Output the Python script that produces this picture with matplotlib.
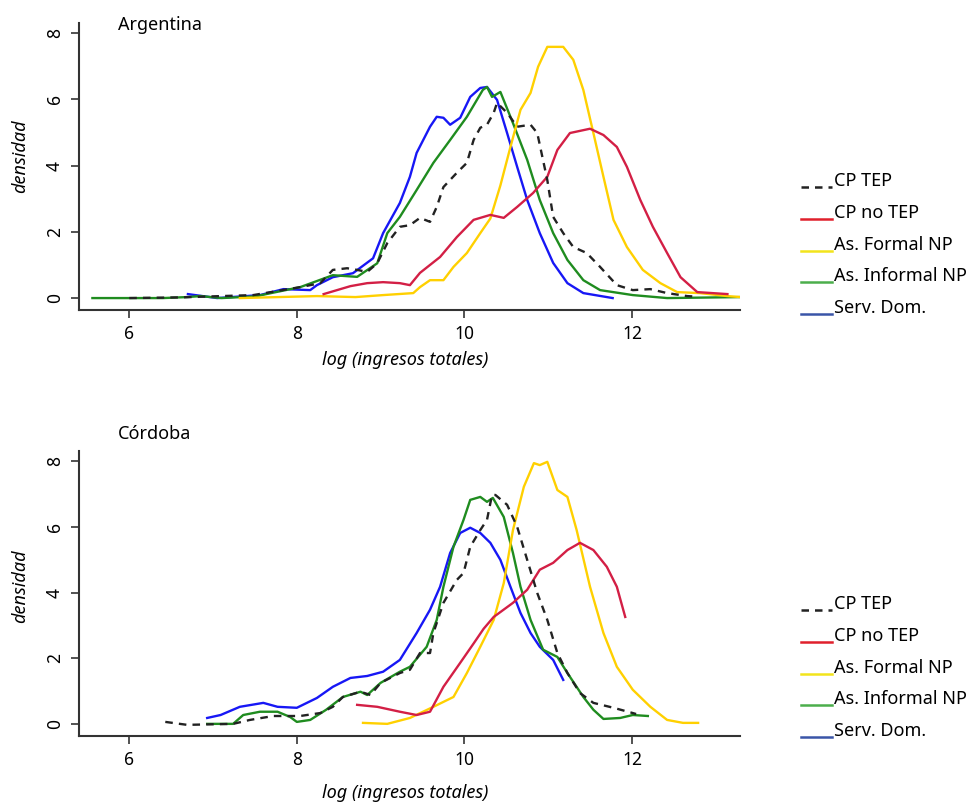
import matplotlib
matplotlib.use('Agg')
import matplotlib.pyplot as plt
from matplotlib.lines import Line2D
import numpy as np

plt.rcParams['font.family'] = ['Noto Sans', 'DejaVu Sans']

series = ['CP TEP', 'CP no TEP', 'As. Formal NP', 'As. Informal NP', 'Serv. Dom.']

# Argentina
ar_tep_x = [6.0, 6.6, 7.48, 8.04, 8.28, 8.43, 8.6, 8.72, 8.84, 8.96, 9.08, 9.23, 9.35, 9.47, 9.59, 9.67, 9.75, 9.91, 10.03,
            10.11, 10.19, 10.27, 10.35, 10.39, 10.51, 10.63, 10.79, 10.87, 10.99, 11.06, 11.18, 11.3, 11.46, 11.62, 11.82,
            12.01, 12.22, 12.42, 12.66, 12.72]
ar_tep_y = [0.0, 0.02, 0.09, 0.33, 0.45, 0.85, 0.9, 0.85, 0.79, 1.05, 1.66, 2.15, 2.2, 2.42, 2.3, 2.75, 3.35, 3.78, 4.08,
            4.77, 5.14, 5.23, 5.59, 5.89, 5.59, 5.17, 5.23, 4.98, 3.56, 2.45, 1.96, 1.54, 1.36, 0.94, 0.39,
            0.24, 0.27, 0.15, 0.06, 0.05]
ar_notep_x = [8.32, 8.64, 8.84, 9.03, 9.23, 9.35, 9.47, 9.71, 9.91, 10.11, 10.19, 10.31, 10.47, 10.63, 10.82, 10.99, 11.11,
              11.26, 11.5, 11.66, 11.82, 11.94, 12.1, 12.25, 12.42, 12.58, 12.78, 13.14]
ar_notep_y = [0.12, 0.36, 0.45, 0.48, 0.45, 0.39, 0.76, 1.24, 1.84, 2.36, 2.42, 2.51, 2.42, 2.75, 3.17, 3.66, 4.47,
              4.98, 5.11, 4.92, 4.56, 3.96, 2.96, 2.15, 1.36, 0.63, 0.18, 0.12]
ar_formal_x = [7.32, 8.24, 8.7, 9.03, 9.39, 9.47, 9.59, 9.75, 9.87, 10.03, 10.19, 10.31, 10.43, 10.55, 10.67, 10.79, 10.88,
               10.99, 11.18, 11.3, 11.42, 11.54, 11.66, 11.78, 11.94, 12.13, 12.34, 12.54, 12.81, 13.14, 13.3]
ar_formal_y = [0.0, 0.06, 0.03, 0.09, 0.15, 0.33, 0.54, 0.54, 0.94, 1.36, 1.96, 2.4, 3.4, 4.56, 5.68, 6.19, 6.98,
               7.58, 7.58, 7.19, 6.28, 4.98, 3.66, 2.36, 1.54, 0.85, 0.45, 0.18, 0.15, 0.06, 0.03]
ar_inf_x = [5.56, 6.4, 6.69, 6.85, 7.1, 7.5, 8.04, 8.43, 8.72, 8.96, 9.08, 9.23, 9.43, 9.63, 9.83, 10.03, 10.22, 10.27,
            10.33, 10.43, 10.58, 10.75, 10.9, 11.06, 11.23, 11.42, 11.62, 12.01, 12.42, 13.3]
ar_inf_y = [0.0, 0.0, 0.03, 0.06, 0.0, 0.05, 0.33, 0.69, 0.64, 1.05, 1.96, 2.45, 3.26, 4.08, 4.77, 5.47, 6.28, 6.37,
            6.07, 6.22, 5.28, 4.17, 2.96, 1.96, 1.15, 0.54, 0.24, 0.09, 0.0, 0.03]
ar_dom_x = [6.7, 7.05, 7.56, 7.84, 8.16, 8.24, 8.43, 8.67, 8.91, 9.03, 9.23, 9.35, 9.43, 9.59, 9.67, 9.75, 9.83, 9.95,
            10.07, 10.19, 10.27, 10.39, 10.51, 10.63, 10.75, 10.9, 11.06, 11.23, 11.42, 11.77]
ar_dom_y = [0.12, 0.0, 0.09, 0.27, 0.24, 0.39, 0.63, 0.75, 1.2, 1.96, 2.87, 3.66, 4.38, 5.17, 5.47, 5.44, 5.23, 5.44,
            6.07, 6.34, 6.37, 5.98, 4.98, 3.96, 2.96, 1.96, 1.06, 0.45, 0.15, 0.0]

# Cordoba
co_tep_x = [6.43, 6.69, 7.24, 7.44, 7.72, 8.04, 8.28, 8.43, 8.55, 8.76, 8.88, 9.0, 9.23, 9.35, 9.47, 9.59, 9.63, 9.75,
            9.91, 9.99, 10.07, 10.19, 10.27, 10.33, 10.37, 10.51, 10.63, 10.75, 10.87, 10.99, 11.11, 11.23, 11.38,
            11.54, 11.78, 12.01, 12.05]
co_tep_y = [0.06, -0.03, 0.0, 0.12, 0.24, 0.24, 0.33, 0.52, 0.82, 0.98, 0.88, 1.25, 1.55, 1.65, 2.16, 2.16, 2.77, 3.69,
            4.39, 4.6, 5.4, 5.91, 6.22, 6.98, 6.98, 6.68, 6.01, 5.0, 3.99, 3.17, 2.16, 1.55, 0.94,
            0.64, 0.49, 0.33, 0.3]
co_notep_x = [8.72, 8.96, 9.23, 9.43, 9.59, 9.75, 9.95, 10.11, 10.23, 10.35, 10.58, 10.75, 10.9, 11.06, 11.23, 11.38,
              11.54, 11.7, 11.82, 11.92]
co_notep_y = [0.58, 0.52, 0.37, 0.27, 0.37, 1.13, 1.86, 2.45, 2.9, 3.26, 3.69, 4.09, 4.7, 4.91, 5.3, 5.52,
              5.3, 4.79, 4.18, 3.26]
co_formal_x = [8.79, 9.08, 9.35, 9.63, 9.87, 10.03, 10.19, 10.35, 10.47, 10.58, 10.71, 10.83, 10.9, 10.99, 11.11, 11.23,
               11.34, 11.5, 11.66, 11.82, 12.01, 12.22, 12.42, 12.61, 12.79]
co_formal_y = [0.03, 0.0, 0.18, 0.52, 0.82, 1.55, 2.35, 3.17, 4.29, 5.91, 7.23, 7.95, 7.89, 7.99, 7.13, 6.92,
               5.91, 4.18, 2.77, 1.74, 1.04, 0.52, 0.12, 0.03, 0.03]
co_inf_x = [6.93, 7.24, 7.36, 7.56, 7.77, 7.92, 8.0, 8.16, 8.35, 8.55, 8.76, 8.84, 9.0, 9.23, 9.35, 9.55, 9.67, 9.75,
            9.87, 9.99, 10.07, 10.19, 10.27, 10.34, 10.47, 10.58, 10.67, 10.79, 10.94, 11.11, 11.23, 11.42, 11.54,
            11.66, 11.86, 12.01, 12.19]
co_inf_y = [0.0, 0.0, 0.27, 0.37, 0.37, 0.21, 0.06, 0.12, 0.43, 0.82, 0.98, 0.88, 1.25, 1.59, 1.74, 2.35, 3.17, 4.18,
            5.4, 6.22, 6.83, 6.92, 6.77, 6.89, 6.31, 5.21, 4.18, 3.17, 2.26, 2.04, 1.55, 0.82, 0.43,
            0.15, 0.18, 0.27, 0.24]
co_dom_x = [6.93, 7.09, 7.32, 7.6, 7.77, 8.0, 8.24, 8.43, 8.64, 8.84, 9.03, 9.23, 9.43, 9.59, 9.71, 9.83, 9.95, 10.07,
            10.19, 10.31, 10.43, 10.55, 10.67, 10.79, 10.9, 11.06, 11.18]
co_dom_y = [0.18, 0.27, 0.52, 0.64, 0.52, 0.49, 0.79, 1.13, 1.4, 1.46, 1.59, 1.95, 2.77, 3.48, 4.18, 5.21, 5.82, 5.98,
            5.82, 5.52, 5.0, 4.18, 3.38, 2.77, 2.35, 1.95, 1.34]

line_cols = ['#222222', '#d31f45', '#ffd000', '#1f8c1f', '#1717f5']
leg_cols = ['#222222', '#e0202c', '#f2e41c', '#4cae4c', '#3a55a8']

W, H = 977, 806
fig = plt.figure(figsize=(W / 100, H / 100), dpi=100)


def fx(px):
    return px / W


def fy(py):
    return 1 - py / H


def panel(top, bot, ylim, title, ty, data, xlab_y, ylab_y, legy):
    ax = fig.add_axes([fx(79), fy(bot), fx(740) - fx(79), fy(top) - fy(bot)])
    for i, (x, y) in enumerate(data):
        ls = (0, (3.2, 2.6)) if i == 0 else '-'
        ax.plot(x, y, color=line_cols[i], lw=1.7, ls=ls, zorder=5 - i if i else 6)
    ax.set_xlim(5.40, 13.29)
    ax.set_ylim(*ylim)
    ax.set_xticks([6, 8, 10, 12])
    ax.set_yticks([0, 2, 4, 6, 8])
    ax.tick_params(axis='both', direction='out', length=6, width=1.3, color='#444444', labelsize=12.5, pad=5)
    for lab in ax.get_yticklabels():
        lab.set_rotation(90)
        lab.set_va('center')
    for s in ['top', 'right']:
        ax.spines[s].set_visible(False)
    for s in ['left', 'bottom']:
        ax.spines[s].set_linewidth(1.5)
        ax.spines[s].set_color('#333333')
    fig.text(fx(118), fy(ty), title, fontsize=13, va='center', ha='left')
    fig.text(fx(405), fy(xlab_y), 'log (ingresos totales)', fontsize=13, style='italic', ha='center', va='center')
    fig.text(fx(20), fy(ylab_y), 'densidad', fontsize=13, style='italic', rotation=90,
             ha='center', va='center')
    for i, name in enumerate(series):
        yy = legy + i * 31.8
        ls = (0, (3.0, 2.4)) if i == 0 else '-'
        fig.lines.append(Line2D([fx(801), fx(832)], [fy(yy + 4), fy(yy + 4)], transform=fig.transFigure,
                                color=leg_cols[i], lw=1.8, ls=ls))
        fig.text(fx(834), fy(yy - 2), name, fontsize=13, ha='left', va='center')
    return ax


panel(23, 310, (-0.36, 8.3), 'Argentina', 25,
      [(ar_tep_x, ar_tep_y), (ar_notep_x, ar_notep_y), (ar_formal_x, ar_formal_y),
       (ar_inf_x, ar_inf_y), (ar_dom_x, ar_dom_y)], 360, 156, 183)
panel(451, 736, (-0.37, 8.32), 'Córdoba', 434,
      [(co_tep_x, co_tep_y), (co_notep_x, co_notep_y), (co_formal_x, co_formal_y),
       (co_inf_x, co_inf_y), (co_dom_x, co_dom_y)], 793, 586, 606)

plt.savefig('out.png', dpi=100)
